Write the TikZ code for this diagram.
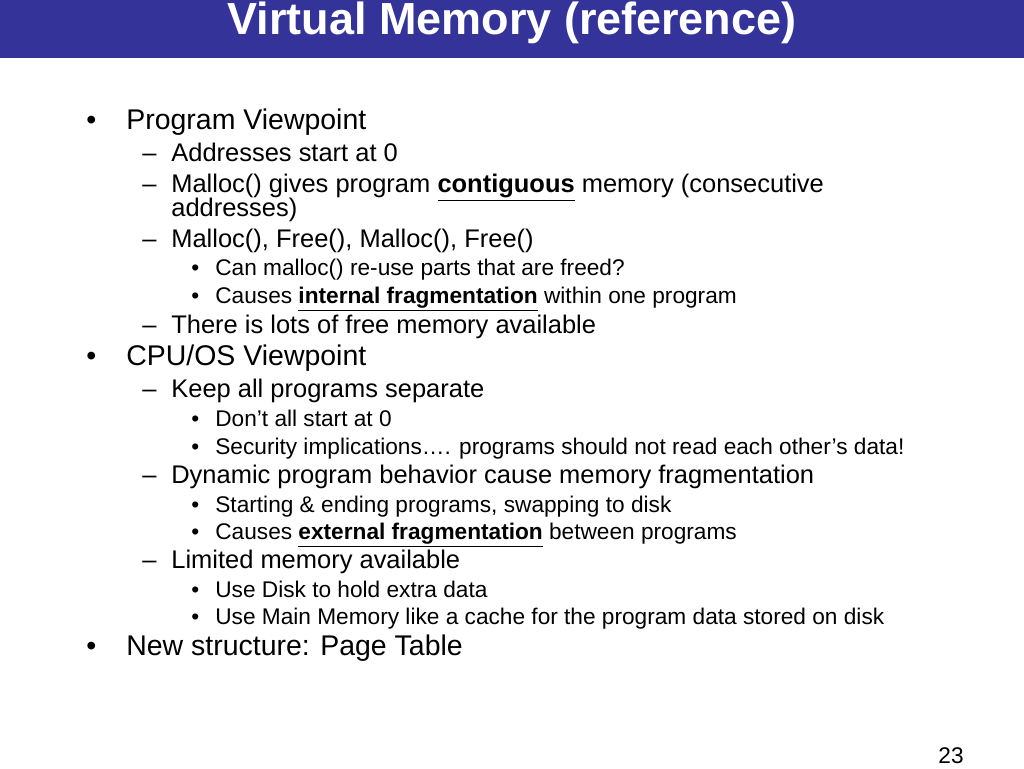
\documentclass[tikz,border=0pt]{standalone}
\usepackage{fontspec}
\setmainfont{Liberation Sans}
\newcommand{\ul}[1]{\textbf{\underline{#1}}}
\begin{document}
\begin{tikzpicture}[x=0.02cm,y=-0.02cm,
 every node/.style={inner sep=0pt,anchor=west,text height=0.72em,text depth=0.2em},
 la/.style={font=\fontsize{16.2}{18}\selectfont},
 lb/.style={font=\fontsize{14.5}{16}\selectfont},
 lc/.style={font=\fontsize{12.9}{14}\selectfont}]
\useasboundingbox (0,0) rectangle (1024,768);
\fill[fill={rgb,255:red,51;green,51;blue,153}] (0,0) rectangle (1024,58);
\node[anchor=center,text=white,font=\fontsize{25.6}{28}\bfseries] (title) at (512,30) {Virtual Memory (reference)};
% level 1
\foreach \y/\t [count=\i] in {125/Program Viewpoint,361/{CPU/OS Viewpoint},651/New structure: Page Table}{
 \node[la] (b\i) at (86,\y) {•};
 \node[la] (t\i) at (126,\y) {\t};}
% level 2
\foreach \y/\t [count=\i] in {157/Addresses start at 0,243/{Malloc(), Free(), Malloc(), Free()},329/There is lots of free memory available,393/Keep all programs separate,479/Dynamic program behavior cause memory fragmentation,564/Limited memory available}{
 \node[lb] (d\i) at (142,\y) {–};
 \node[lb] (u\i) at (171,\y) {\t};}
\node[lb] (dm) at (142,188) {–};
\node[lb] (um) at (171,188) {Malloc() gives program \ul{contiguous} memory (consecutive};
\node[lb] (um2) at (171,212) {addresses)};
% level 3
\foreach \y/\t [count=\i] in {271/Can malloc() re-use parts that are freed?,299/{Causes \ul{internal fragmentation} within one program},422/Don’t all start at 0,450/Security implications…. programs should not read each other’s data!,508/Starting \& ending programs{,} swapping to disk,535/{Causes \ul{external fragmentation} between programs},593/Use Disk to hold extra data,620/Use Main Memory like a cache for the program data stored on disk}{
 \node[lc] (e\i) at (191,\y) {•};
 \node[lc] (v\i) at (215,\y) {\t};}
\node[lc,anchor=center] (pg) at (951,759) {23};
\end{tikzpicture}
\end{document}
